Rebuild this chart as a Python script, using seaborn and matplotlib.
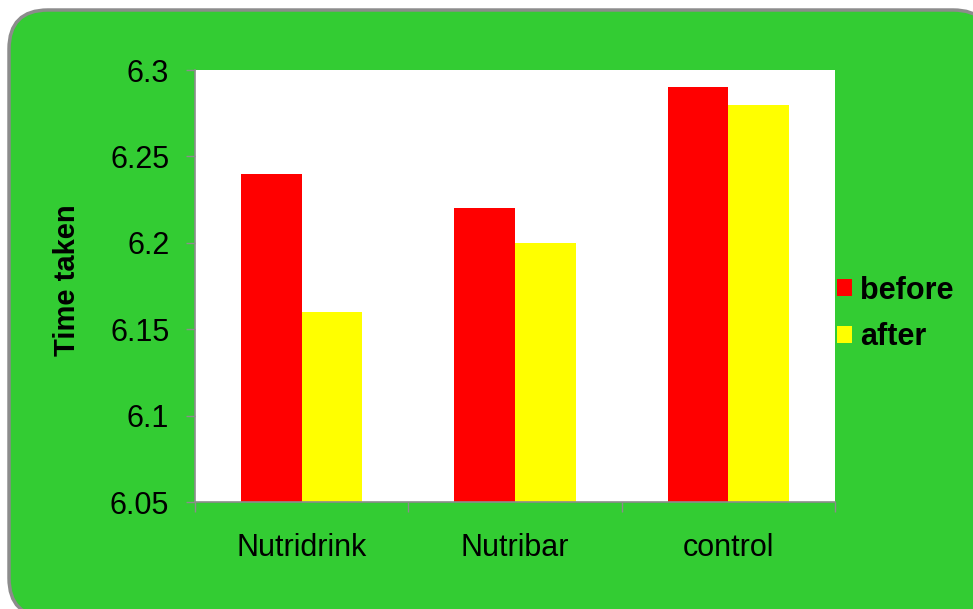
import matplotlib
matplotlib.use("Agg")
import matplotlib.pyplot as plt
from matplotlib.patches import FancyBboxPatch, Patch
import seaborn as sns
import pandas as pd

# Mean time taken per group, before and after the trial
groups = ["Nutridrink", "Nutribar", "control"]
before = [6.24, 6.22, 6.29]
after = [6.16, 6.20, 6.28]
y_ticks = [6.05, 6.1, 6.15, 6.2, 6.25, 6.3]
y_tick_labels = ["6.05", "6.1", "6.15", "6.2", "6.25", "6.3"]

df = pd.DataFrame({
    "group": groups * 2,
    "time": before + after,
    "phase": ["before"] * len(groups) + ["after"] * len(groups),
})

sns.set_theme(style="white")
plt.rcParams["font.family"] = ["Liberation Sans", "DejaVu Sans"]
plt.rcParams["text.color"] = "black"

W, H = 973, 609
fig = plt.figure(figsize=(W / 100, H / 100), dpi=100)
fig.patch.set_facecolor("white")

# Rounded green panel behind the chart
panel = FancyBboxPatch(
    (9 / W, -8 / H), (W + 10) / W, (H - 10 + 8) / H,
    boxstyle="round,pad=0,rounding_size=0.04",
    transform=fig.transFigure, facecolor="#33CC33",
    edgecolor="#8c8c8c", linewidth=2.5, zorder=-10,
    mutation_aspect=W / H,
)
fig.patches.append(panel)

ax = fig.add_axes([195 / W, 1 - 502 / H, 640 / W, 432 / H])
ax.set_zorder(1)
ax.set_facecolor("white")

palette = {"before": "#FF0000", "after": "#FFFF00"}
sns.barplot(data=df, x="group", y="time", hue="phase", palette=palette,
            width=0.57, saturation=1, gap=0, linewidth=0,
            errorbar=None, ax=ax, legend=False)

ax.set_ylim(6.05, 6.3)
ax.set_xlim(-0.5, 2.5)
ax.set_yticks(y_ticks)
ax.set_yticklabels(y_tick_labels)
ax.set_xticks(range(len(groups)))
ax.set_xticklabels(groups)
ax.set_xticks([-0.5, 0.5, 1.5, 2.5], minor=True)

for side in ["top", "right"]:
    ax.spines[side].set_visible(False)
for side in ["left", "bottom"]:
    ax.spines[side].set_color("#8c8c8c")
    ax.spines[side].set_linewidth(1.2)

ax.tick_params(axis="y", which="major", direction="out", length=6.5, width=1,
               color="#8c8c8c", pad=12, labelsize=22, labelcolor="black", left=True)
ax.tick_params(axis="x", which="major", length=0, pad=22, labelsize=22, labelcolor="black")
ax.tick_params(axis="x", which="minor", direction="out", length=7, width=1,
               color="#8c8c8c", bottom=True)

ax.set_xlabel("")
ax.set_ylabel("Time taken", fontsize=21, fontweight="bold", color="black")
ax.yaxis.set_label_coords(-0.178, 0.513)

handles = [Patch(facecolor=palette["before"], edgecolor="none"),
           Patch(facecolor=palette["after"], edgecolor="none")]
leg = fig.legend(handles, ["before", "after"], loc="center left",
                 bbox_to_anchor=(837 / W, 1 - 314 / H), frameon=False,
                 prop={"size": 22, "weight": "bold"},
                 handlelength=0.5, handleheight=0.5, handletextpad=0.25,
                 labelspacing=0.55, borderaxespad=0, borderpad=0)
for t in leg.get_texts():
    t.set_color("black")

fig.savefig("out.png", dpi=100, facecolor=fig.get_facecolor())
